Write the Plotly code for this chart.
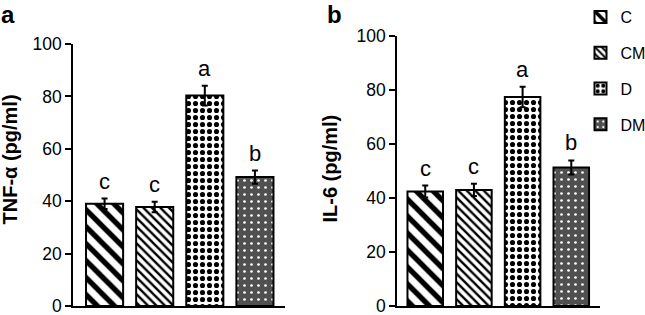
import plotly.graph_objects as go

categories = ["C", "CM", "D", "DM"]
tnf_values = [39.0, 37.8, 80.3, 49.2]
tnf_errors = [2.0, 2.0, 3.8, 2.5]
il6_values = [42.4, 43.0, 77.4, 51.3]
il6_errors = [2.2, 2.3, 3.8, 2.6]
letters_a = ["c", "c", "a", "b"]
letters_b = ["c", "c", "a", "b"]
y_ticks = [0, 20, 40, 60, 80, 100]

patterns = {
    "C": dict(shape="\\", size=12, solidity=0.45, fgcolor="black", bgcolor="white", fgopacity=1),
    "CM": dict(shape="\\", size=6, solidity=0.4, fgcolor="black", bgcolor="white", fgopacity=1),
    "D": dict(shape=".", size=7, solidity=0.42, fgcolor="black", bgcolor="white", fgopacity=1),
    "DM": dict(shape=".", size=7, solidity=0.12, fgcolor="white", bgcolor="#505050", fgopacity=1),
}

FONT = "Liberation Sans, Arial, sans-serif"
W, H = 645, 315
fig = go.Figure()

for i, cat in enumerate(categories):
    fig.add_trace(go.Bar(
        x=[cat], y=[tnf_values[i]], name=cat, legendgroup=cat, showlegend=True,
        width=0.74,
        marker=dict(color="white", line=dict(color="black", width=2), pattern=patterns[cat]),
        error_y=dict(type="data", array=[tnf_errors[i]], color="black", thickness=2, width=3),
        xaxis="x", yaxis="y",
    ))
    fig.add_trace(go.Bar(
        x=[cat], y=[il6_values[i]], name=cat, legendgroup=cat, showlegend=False,
        width=0.73,
        marker=dict(color="white", line=dict(color="black", width=2), pattern=patterns[cat]),
        error_y=dict(type="data", array=[il6_errors[i]], color="black", thickness=2, width=3),
        xaxis="x2", yaxis="y2",
    ))

annotations = []
for i, cat in enumerate(categories):
    annotations.append(dict(x=cat, y=tnf_values[i] + tnf_errors[i], xref="x", yref="y",
                            text=letters_a[i], showarrow=False, yanchor="bottom", yshift=3,
                            font=dict(size=22, color="black", family=FONT)))
    annotations.append(dict(x=cat, y=il6_values[i] + il6_errors[i], xref="x2", yref="y2",
                            text=letters_b[i], showarrow=False, yanchor="bottom", yshift=3,
                            font=dict(size=22, color="black", family=FONT)))
# panel labels
annotations.append(dict(x=-0.002, y=1.003, xref="paper", yref="paper", text="<b>a</b>",
                        showarrow=False, xanchor="left", yanchor="top",
                        font=dict(size=24, color="black", family=FONT)))
annotations.append(dict(x=325 / W, y=1.003, xref="paper", yref="paper", text="<b>b</b>",
                        showarrow=False, xanchor="left", yanchor="top",
                        font=dict(size=24, color="black", family=FONT)))
# y-axis titles
annotations.append(dict(x=9.5 / W, y=(H - 160) / H, xref="paper", yref="paper",
                        text="<b>TNF-α (pg/ml)</b>", textangle=-90, showarrow=False,
                        xanchor="center", yanchor="middle",
                        font=dict(size=20, color="black", family=FONT)))
annotations.append(dict(x=329 / W, y=(H - 168.5) / H, xref="paper", yref="paper",
                        text="<b>IL-6 (pg/ml)</b>", textangle=-90, showarrow=False,
                        xanchor="center", yanchor="middle",
                        font=dict(size=20, color="black", family=FONT)))

xcommon = dict(showline=True, linecolor="black", linewidth=1.5, showticklabels=False,
               ticks="", showgrid=False, zeroline=False, type="category")
ycommon = dict(showline=True, linecolor="black", linewidth=1.5, ticks="outside", ticklen=6,
               tickwidth=1.5, tickcolor="black", showgrid=False, zeroline=False,
               range=[0, 100], tickvals=y_ticks, ticklabeloverflow="allow",
               tickfont=dict(size=17.5, color="black", family=FONT))

fig.update_layout(
    width=W, height=H,
    margin=dict(l=0, r=0, t=0, b=0, autoexpand=False),
    paper_bgcolor="white", plot_bgcolor="white",
    barmode="overlay",
    font=dict(family=FONT, color="black"),
    xaxis=dict(domain=[73 / W, 285 / W], range=[-0.63, 3.6], anchor="y", **xcommon),
    xaxis2=dict(domain=[397 / W, 600 / W], range=[-0.58, 3.59], anchor="y2", **xcommon),
    yaxis=dict(domain=[9 / H, 271 / H], anchor="x", **ycommon),
    yaxis2=dict(domain=[9 / H, 279 / H], anchor="x2", **ycommon),
    legend=dict(x=0.90, y=1.0, xanchor="left", yanchor="top", bgcolor="rgba(0,0,0,0)",
                font=dict(size=16, color="black", family=FONT), tracegroupgap=12,
                itemwidth=30, traceorder="grouped"),
    annotations=annotations,
)

fig.write_html("out.html", config={"displayModeBar": False},
               post_script="document.body.style.margin='0px';")
